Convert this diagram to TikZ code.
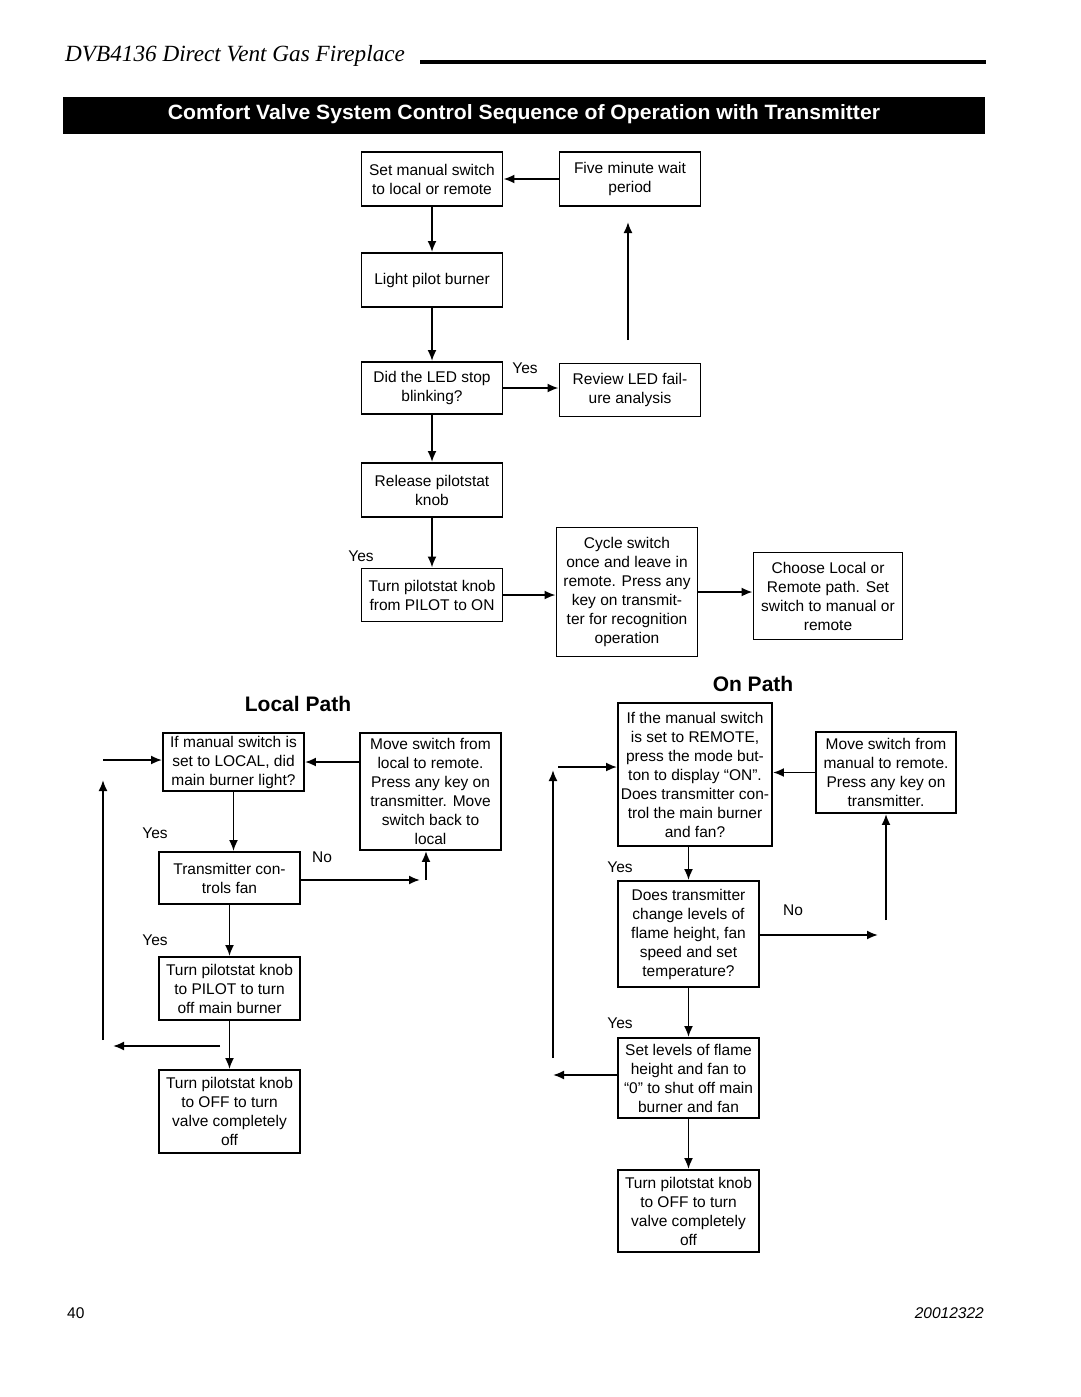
\documentclass[tikz,border=0pt]{standalone}
\usepackage{fontspec}
\setmainfont{Liberation Sans}
\newfontfamily\headfont{Liberation Serif}
\usetikzlibrary{arrows.meta}

\begin{document}
\begin{tikzpicture}[x=1pt, y=-1pt,
	caixa/.style={draw, line width=1.9pt, align=center, inner sep=0pt, minimum width=141pt,
		font=\fontsize{15.5}{19}\selectfont},
	rot/.style={font=\fontsize{15.5}{19}\selectfont},
	seta/.style={-{Latex[length=11pt,width=9pt]}, line width=1.9pt},
	linha/.style={line width=1.9pt}]
	\useasboundingbox (0,0) rectangle (1080,1397);
	
	% Cabecalho
	\node[anchor=base west, inner sep=0pt, font=\headfont\itshape\fontsize{23.2}{28}\selectfont] (cab) at (65,62) {DVB4136 Direct Vent Gas Fireplace};
	\draw[line width=4pt] (420,62) -- (986,62);											% Linha do cabecalho
	\fill (63,97) rectangle (985,134);													% Faixa preta
	\node[text=white, inner sep=0pt] (titulo) at (524,114) {\resizebox{712pt}{15pt}{\bfseries Comfort Valve System Control Sequence of Operation with Transmitter}};
	
	% Sequencia inicial
	\node[caixa, minimum height=54pt] (b1) at (432,179) {Set manual switch\\to local or remote};
	\node[caixa, minimum height=54pt] (b2) at (630,179) {Five minute wait\\period};
	\node[caixa, minimum height=54pt] (b3) at (432,280) {Light pilot burner};
	\node[caixa, minimum height=52pt] (b4) at (432,388) {Did the LED stop\\blinking?};
	\node[caixa, minimum height=53pt] (b5) at (630,390) {Review LED fail-\\ure analysis};
	\node[caixa, minimum height=54pt] (b6) at (432,490) {Release pilotstat\\knob};
	\node[caixa, minimum height=53pt] (b7) at (432,595) {Turn pilotstat knob\\from PILOT to ON};
	\node[caixa, minimum height=129pt] (b8) at (627,592) {Cycle switch\\once and leave in\\remote. Press any\\key on transmit-\\ter for recognition\\operation};
	\node[caixa, minimum height=87pt, minimum width=149pt] (b9) at (828,596) {Choose Local or\\Remote path. Set\\switch to manual or\\remote};
	\node[rot] (sim1) at (525,368) {Yes};
	\node[rot] (sim2) at (361,556) {Yes};
	\coordinate (v1) at (628,340);
	\coordinate (v2) at (628,222);
	
	\draw[seta] (b2) -- (b1);
	\draw[seta] (b1) -- (b3);
	\draw[seta] (b3) -- (b4);
	\draw[seta] (b4.east) -- (b4.east -| b5.west);
	\draw[seta] (b4) -- (b6);
	\draw[seta] (b6) -- (b7);
	\draw[seta] (b7.east) -- (b7.east -| b8.west);
	\draw[seta] (b8.east) -- (b8.east -| b9.west);
	\draw[seta] (v1) -- (v2);
	
	% Caminho local
	\node[font=\bfseries\fontsize{21}{25}\selectfont] (local) at (298,704) {Local Path};
	\node[caixa, minimum height=58pt] (l1) at (233.5,762) {If manual switch is\\set to LOCAL, did\\main burner light?};
	\node[caixa, minimum height=117pt] (l2) at (430.5,791.5) {Move switch from\\local to remote.\\Press any key on\\transmitter. Move\\switch back to\\local};
	\node[caixa, minimum height=52pt] (l3) at (229.5,878) {Transmitter con-\\trols fan};
	\node[caixa, minimum height=63pt] (l4) at (229.5,988.5) {Turn pilotstat knob\\to PILOT to turn\\off main burner};
	\node[caixa, minimum height=83pt] (l5) at (229.5,1111.5) {Turn pilotstat knob\\to OFF to turn\\valve completely\\off};
	\node[rot] (sim3) at (155,833) {Yes};
	\node[rot] (nao1) at (322,857) {No};
	\node[rot] (sim4) at (155,940) {Yes};
	\coordinate (lent) at (103,760);
	\coordinate (lbase) at (103,1040);
	\coordinate (ltopo) at (103,780);
	\coordinate (lnao) at (420,880);
	\coordinate (lsobe) at (426,880);
	\coordinate (lvolta) at (220,1046);
	\coordinate (lfim) at (113,1046);
	
	\draw[seta] (lent) -- (lent -| l1.west);
	\draw[seta] (lbase) -- (ltopo);
	\draw[seta] (l2.west |- l1.east) -- (l1.east);
	\draw[seta] (l1.south) -- (l1.south |- l3.north);
	\draw[seta] (l3.east |- lnao) -- (lnao);
	\draw[seta] (lsobe) -- (lsobe |- l2.south);
	\draw[seta] (l3) -- (l4);
	\draw[seta] (l4) -- (l5);
	\draw[seta] (lvolta) -- (lfim);
	
	% Caminho ON
	\node[font=\bfseries\fontsize{21}{25}\selectfont] (on) at (753,684) {On Path};
	\node[caixa, minimum height=143pt, minimum width=154pt] (r1) at (695,774.5) {If the manual switch\\is set to REMOTE,\\press the mode but-\\ton to display “ON”.\\Does transmitter con-\\trol the main burner\\and fan?};
	\node[caixa, minimum height=81pt, minimum width=140pt] (r2) at (886,772.5) {Move switch from\\manual to remote.\\Press any key on\\transmitter.};
	\node[caixa, minimum height=106pt] (r3) at (688.5,934) {Does transmitter\\change levels of\\flame height, fan\\speed and set\\temperature?};
	\node[caixa, minimum height=80pt] (r4) at (688.5,1078) {Set levels of flame\\height and fan to\\“0” to shut off main\\burner and fan};
	\node[caixa, minimum height=82pt] (r5) at (688.5,1211) {Turn pilotstat knob\\to OFF to turn\\valve completely\\off};
	\node[rot] (sim5) at (620,867) {Yes};
	\node[rot] (nao2) at (793,910) {No};
	\node[rot] (sim6) at (620,1023) {Yes};
	\coordinate (rent) at (558,767);
	\coordinate (rbase) at (553,1058);
	\coordinate (rtopo) at (553,770);
	\coordinate (rnao) at (878,935);
	\coordinate (rsobe) at (886,920);
	\coordinate (rfim) at (553,1075);
	
	\draw[seta] (rent) -- (rent -| r1.west);
	\draw[seta] (rbase) -- (rtopo);
	\draw[seta] (r2.west) -- (r2.west -| r1.east);
	\draw[seta] (r3.north |- r1.south) -- (r3.north);
	\draw[seta] (r3.east |- rnao) -- (rnao);
	\draw[seta] (rsobe) -- (rsobe |- r2.south);
	\draw[seta] (r3) -- (r4);
	\draw[seta] (r4.west |- rfim) -- (rfim);
	\draw[seta] (r4) -- (r5);
	
	% Rodape
	\node[anchor=base west, inner sep=0pt, font=\fontsize{15.5}{19}\selectfont] (pag) at (67,1318) {40};
	\node[anchor=base east, inner sep=0pt, font=\itshape\fontsize{15.5}{19}\selectfont] (cod) at (984,1318) {20012322};
\end{tikzpicture}
\end{document}
